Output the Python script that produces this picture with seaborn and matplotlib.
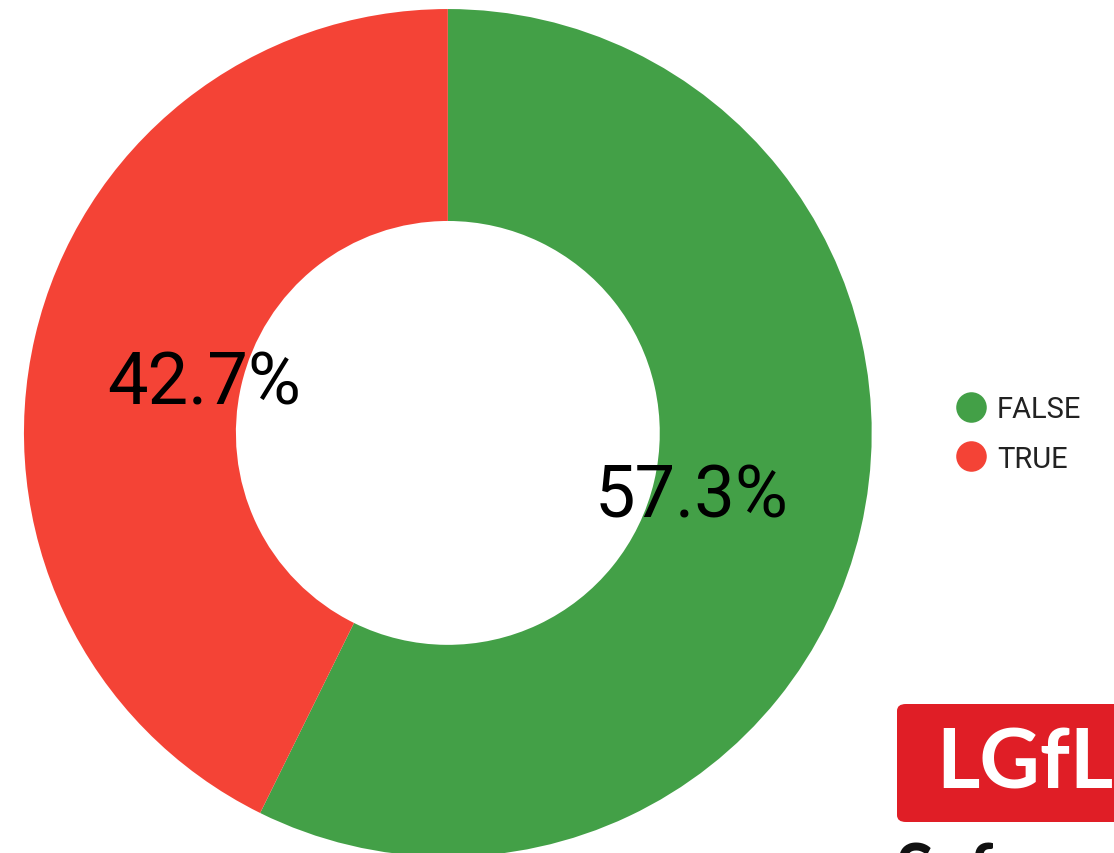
import matplotlib
matplotlib.use("Agg")
import matplotlib.pyplot as plt
from matplotlib.lines import Line2D
from matplotlib.patches import FancyBboxPatch
import seaborn as sns

# data
labels = ["FALSE", "TRUE"]
shares = [57.3, 42.7]
colors = ["#43A047", "#F44336"]

sns.set_theme(style="white")
plt.rcParams['font.family'] = ['Roboto', 'DejaVu Sans']

fig = plt.figure(figsize=(11.14, 8.54), dpi=100)
ax = fig.add_axes([0.0215, -0.0046, 0.761, 0.993])

wedges, _, pct = ax.pie(shares, colors=colors, startangle=90, counterclock=False,
                        autopct='%1.1f%%', pctdistance=0.59,
                        wedgeprops=dict(width=0.5, linewidth=0),
                        textprops=dict(fontsize=52, color="#000000"))
for t in pct:
    t.set_va('center_baseline')
ax.set_xlim(-1, 1)
ax.set_ylim(-1, 1)
ax.set_aspect('equal')

# legend with round markers
handles = [Line2D([], [], marker='o', linestyle='', markersize=22,
                  markerfacecolor=c, markeredgewidth=0) for c in colors]
fig.legend(handles, labels, loc='center left', bbox_to_anchor=(0.832, 0.491),
           frameon=False, fontsize=21, labelcolor="#222222",
           handletextpad=0.3, labelspacing=0.75, handlelength=1.2)

# partial logo at the bottom right, cut off by the page edge
logo = FancyBboxPatch((897 / 1114, 1 - 823 / 854), 0.3, 118 / 854,
                      boxstyle="round,pad=0,rounding_size=0.008",
                      transform=fig.transFigure, facecolor="#E01E26",
                      edgecolor="none")
fig.patches.append(logo)
fig.text(936 / 1114, 1 - 765 / 854, "LGfL", color="white", fontsize=60,
         family=['Lato', 'DejaVu Sans'], weight='bold', va='center', ha='left')
fig.text(895 / 1114, 1 - 842 / 854, "Safeguarding", color="#111111", fontsize=50,
         family=['Lato', 'DejaVu Sans'], weight='bold', va='top', ha='left')

fig.savefig("out.png", dpi=100)
